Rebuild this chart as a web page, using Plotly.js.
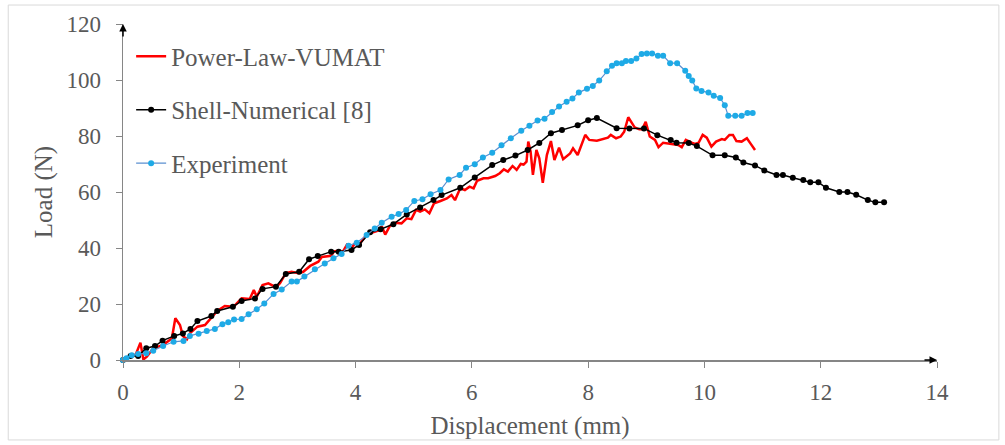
<!DOCTYPE html>
<html>
<head>
<meta charset="utf-8">
<script src="https://cdn.plot.ly/plotly-3.0.1.min.js"></script>
<style>html,body{margin:0;padding:0;background:#fff;}#chart{width:1005px;height:445px;}</style>
</head>
<body>
<div id="chart"></div>
<script>
// Power-Law-VUMAT (red)
var vumatX = [0,0.12,0.22,0.30,0.35,0.41,0.52,0.69,0.84,0.90,0.98,1.03,1.10,1.15,1.28,1.41,1.52,1.62,1.75,1.90,2.04,2.18,2.25,2.30,2.40,2.50,2.63,2.70,2.80,2.90,3.02,3.10,3.22,3.36,3.42,3.50,3.58,3.63,3.70,3.78,3.85,3.93,3.99,4.08,4.16,4.25,4.33,4.42,4.45,4.51,4.59,4.68,4.79,4.88,4.96,5.04,5.11,5.19,5.27,5.35,5.46,5.57,5.65,5.71,5.80,5.88,5.96,6.03,6.09,6.20,6.28,6.40,6.48,6.55,6.62,6.70,6.77,6.84,6.89,6.94,6.97,7.01,7.05,7.11,7.16,7.22,7.29,7.36,7.42,7.50,7.57,7.69,7.74,7.82,7.95,8.02,8.15,8.25,8.34,8.39,8.48,8.56,8.62,8.69,8.80,8.88,8.93,8.99,9.06,9.15,9.21,9.29,9.35,9.45,9.55,9.61,9.68,9.78,9.84,9.90,9.97,10.04,10.12,10.20,10.30,10.35,10.43,10.49,10.55,10.64,10.73,10.80,10.87];
var vumatY = [0,1.0,2.0,6.2,0.2,1.2,4.2,5.4,7.7,14.9,12.5,8.6,7.4,9.5,11.9,12.5,15.2,17.5,19.3,19.0,22.0,21.8,25.0,22.6,26.8,27.4,26.0,27.4,31.0,31.5,31.0,31.5,33.6,35.1,36.8,36.9,37.2,38.8,39.0,38.6,41.1,39.9,41.7,41.7,44.0,45.2,45.8,46.4,47.8,44.8,47.9,49.0,48.8,50.6,50.3,53.6,53.0,53.8,52.4,56.0,56.8,57.7,58.9,57.1,61.3,60.7,61.9,61.3,64.0,64.9,64.9,65.7,66.7,68.1,67.3,69.3,67.9,70.0,69.8,70.8,78.0,74.5,66.1,75.0,72.0,63.3,73.2,78.2,71.4,75.8,71.7,73.8,75.6,73.2,80.4,78.6,78.3,78.9,79.4,80.4,79.2,79.8,81.5,86.7,83.1,82.4,82.4,85.1,79.8,78.6,76.0,77.6,77.4,77.2,76.8,76.0,78.6,77.6,77.2,77.6,80.4,79.4,76.2,78.0,78.9,78.6,80.4,80.4,78.2,78.0,79.2,77.1,75.0];

// Shell-Numerical [8] (black)
var shellX = [0,0.13,0.26,0.40,0.55,0.68,0.88,1.03,1.16,1.28,1.52,1.62,1.89,2.04,2.27,2.40,2.63,2.80,3.03,3.20,3.35,3.58,3.71,3.93,4.06,4.25,4.43,4.65,4.88,5.11,5.34,5.48,5.80,6.05,6.35,6.54,6.75,6.96,7.16,7.36,7.55,7.82,8.00,8.15,8.49,8.71,8.96,9.19,9.42,9.52,9.73,9.87,10.14,10.35,10.54,10.67,10.87,11.03,11.24,11.35,11.52,11.70,11.82,11.96,12.09,12.32,12.46,12.61,12.81,12.94,13.09];
var shellY = [0,1.4,1.4,4.2,5.0,6.9,8.6,9.5,11.1,13.9,15.7,17.5,19.0,21.1,22.0,25.4,26.2,30.7,31.5,36.0,37.1,38.7,38.7,39.3,41.1,45.6,46.7,48.5,52.0,54.5,57.1,58.9,61.5,65.2,69.6,71.4,73.0,75.0,77.5,81.0,82.1,83.8,85.6,86.4,82.8,82.7,82.7,80.3,78.6,77.6,77.5,76.4,73.1,73.1,72.3,70.5,69.5,67.7,66.1,66.1,65.1,64.3,63.5,63.5,61.5,60.0,60.0,59.0,57.1,56.3,56.3];

// Experiment (blue)
var expX = [0,0.06,0.15,0.26,0.40,0.52,0.69,0.87,1.04,1.15,1.30,1.44,1.58,1.71,1.81,1.91,2.04,2.16,2.30,2.43,2.59,2.73,2.90,2.99,3.12,3.30,3.47,3.62,3.76,3.88,4.02,4.19,4.33,4.45,4.62,4.74,4.87,5.01,5.15,5.29,5.46,5.60,5.79,5.90,6.05,6.19,6.35,6.51,6.67,6.85,6.99,7.13,7.25,7.38,7.50,7.63,7.73,7.84,7.98,8.08,8.19,8.32,8.41,8.49,8.58,8.65,8.74,8.83,8.92,9.01,9.10,9.20,9.29,9.41,9.53,9.67,9.73,9.79,9.86,9.95,10.07,10.16,10.27,10.35,10.41,10.53,10.64,10.74,10.83];
var expY = [0,0.6,1.7,2.1,2.4,3.3,5.0,6.5,6.8,8.6,9.4,10.4,11.1,12.8,13.5,14.5,14.6,16.3,18.1,20.2,23.6,25.2,28.0,28.0,29.8,32.4,34.5,36.3,37.9,40.8,41.9,44.6,47.0,49.0,51.2,52.1,53.6,56.8,57.4,59.2,60.7,64.5,66.1,68.7,69.9,72.3,74.0,76.7,79.2,81.9,83.7,85.5,86.2,88.6,90.5,92.2,93.4,95.5,96.9,97.9,99.8,103.1,105.1,106.0,106.0,106.8,106.8,107.7,109.3,109.5,109.5,108.7,108.7,106.0,106.0,103.3,101.4,99.8,97.0,96.1,95.5,94.4,93.6,91.0,87.2,87.2,87.2,88.2,88.2];

var xTicks = [0,2,4,6,8,10,12,14];
var yTicks = [0,20,40,60,80,100,120];

var FONT = '"Liberation Serif", "Times New Roman", serif';
var GRAY = '#595959';
var AXIS = '#868686';

var traces = [
  {x: vumatX, y: vumatY, name: 'Power-Law-VUMAT', type: 'scatter', mode: 'lines',
   line: {color: '#ff0000', width: 2.5}, legendgroup: 'a', cliponaxis: false},
  {x: shellX, y: shellY, name: 'Shell-Numerical [8]', type: 'scatter', mode: 'lines+markers',
   line: {color: '#000000', width: 1.5}, marker: {color: '#000000', size: 6}, legendgroup: 'b', cliponaxis: false},
  {x: expX, y: expY, name: 'Experiment', type: 'scatter', mode: 'lines+markers',
   line: {color: '#5b8fd0', width: 1.2}, marker: {color: '#1eaae6', size: 6}, legendgroup: 'c', cliponaxis: false}
];

var layout = {
  width: 1005, height: 445,
  margin: {l: 123, r: 68, t: 24, b: 85},
  paper_bgcolor: '#ffffff', plot_bgcolor: '#ffffff',
  font: {family: FONT, color: GRAY, size: 23},
  showlegend: true,
  legend: {x: 0.01, y: 0.972, xanchor: 'left', yanchor: 'top', bgcolor: 'rgba(0,0,0,0)',
           font: {family: FONT, size: 25, color: GRAY}, tracegroupgap: 18, itemwidth: 30},
  xaxis: {range: [0, 14], tickvals: xTicks, ticktext: xTicks.map(String), showgrid: false, zeroline: false,
          showline: true, linecolor: AXIS, linewidth: 1.5, ticks: 'outside', ticklen: 6, tickcolor: AXIS,
          tickfont: {family: FONT, size: 23, color: GRAY}, ticklabelstandoff: 5,
          title: {text: 'Displacement (mm)', standoff: 12, font: {family: FONT, size: 25, color: GRAY}}},
  yaxis: {range: [0, 120], tickvals: yTicks, ticktext: yTicks.map(String), showgrid: false, zeroline: false,
          showline: true, linecolor: AXIS, linewidth: 1.5, ticks: 'outside', ticklen: 6, tickcolor: AXIS,
          tickfont: {family: FONT, size: 23, color: GRAY}, ticklabelstandoff: 10,
          title: {text: 'Load (N)', standoff: 6, font: {family: FONT, size: 25, color: GRAY}}},
  annotations: [
    {x: 14, y: 0, xref: 'x', yref: 'y', ax: -14, ay: 0, text: '', showarrow: true,
     arrowhead: 2, arrowsize: 1, arrowwidth: 1.5, arrowcolor: '#000', standoff: 0},
    {x: 0, y: 120, xref: 'x', yref: 'y', ax: 0, ay: 14, text: '', showarrow: true,
     arrowhead: 2, arrowsize: 1, arrowwidth: 1.5, arrowcolor: '#000', standoff: 0}
  ],
  shapes: [
    {type: 'rect', xref: 'paper', yref: 'paper', x0: -0.141, x1: 1.076, y0: -0.238, y1: 1.0565,
     line: {color: '#d9d9d9', width: 1}, fillcolor: 'rgba(0,0,0,0)', layer: 'below'}
  ]
};

Plotly.newPlot('chart', traces, layout, {displayModeBar: false, staticPlot: true});
</script>
</body>
</html>
